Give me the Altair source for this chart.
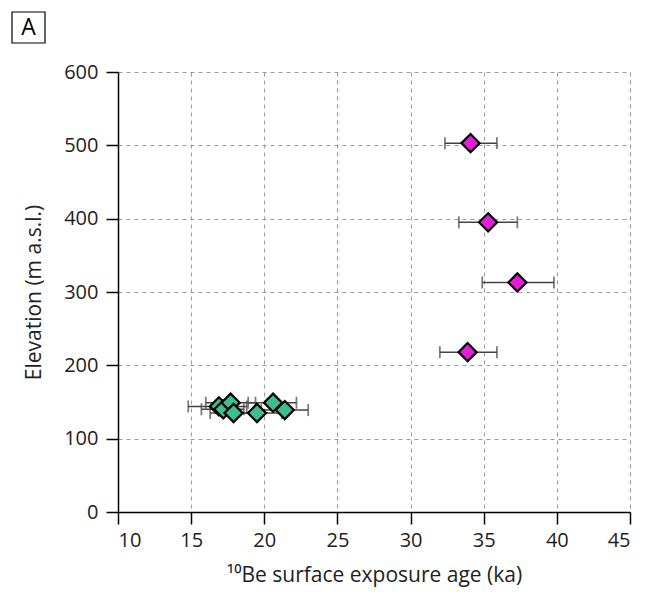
import altair as alt
import pandas as pd

# Pink group (higher elevations)
pink_age = [34.1, 35.3, 37.3, 33.9]
pink_lo = [32.35, 33.3, 34.9, 32.0]
pink_hi = [35.9, 37.3, 39.8, 35.9]
pink_elev = [503, 395, 313, 218]

# Green group (low elevations)
green_age = [16.9, 17.2, 17.7, 17.9, 19.5, 20.6, 21.4]
green_lo = [14.8, 15.7, 16.0, 16.3, 17.8, 18.9, 19.8]
green_hi = [18.8, 18.6, 19.4, 19.6, 21.2, 22.2, 23.0]
green_elev = [144, 140, 149, 135, 135, 149, 139]

x_ticks = [10, 15, 20, 25, 30, 35, 40, 45]
y_ticks = [0, 100, 200, 300, 400, 500, 600]

df = pd.DataFrame({
    "age": pink_age + green_age,
    "lo": pink_lo + green_lo,
    "hi": pink_hi + green_hi,
    "elev": pink_elev + green_elev,
    "group": ["pink"] * len(pink_age) + ["green"] * len(green_age),
})

FONT = "Open Sans"

axis_common = dict(
    grid=True, gridDash=[4, 4], gridColor="#9a9a9a", gridWidth=1,
    domainColor="black", domainWidth=1.5,
    tickColor="black", tickWidth=1.5, tickSize=12,
    labelFont=FONT, labelFontSize=20, labelColor="#222222",
    titleFont=FONT, titleFontSize=21, titleFontWeight="normal", titleColor="#222222",
)

xaxis = alt.Axis(values=x_ticks, title="¹⁰Be surface exposure age (ka)",
                 titlePadding=14, labelPadding=6, **axis_common)
yaxis = alt.Axis(values=y_ticks, title="Elevation (m a.s.l.)",
                 titlePadding=19, labelPadding=8, **axis_common)

xscale = alt.Scale(domain=[10, 45], nice=False, zero=False)
yscale = alt.Scale(domain=[0, 600], nice=False)

base = alt.Chart(df)

err = base.mark_errorbar(ticks=alt.TickConfig(size=12, thickness=1.8, color="#444444"),
                         color="#444444", thickness=1.5).encode(
    x=alt.X("lo:Q", scale=xscale, axis=xaxis),
    x2="hi:Q",
    y=alt.Y("elev:Q", scale=yscale, axis=yaxis),
)

pts = base.mark_point(shape="diamond", filled=True, size=330, stroke="black",
                      strokeWidth=2.2, opacity=1).encode(
    x=alt.X("age:Q", scale=xscale, axis=xaxis),
    y=alt.Y("elev:Q", scale=yscale, axis=yaxis),
    fill=alt.Fill("group:N",
                  scale=alt.Scale(domain=["pink", "green"],
                                  range=["#E21FD6", "#3DBE8F"]),
                  legend=None),
)

label_df = pd.DataFrame({"t": ["A"]})
box = alt.Chart(label_df).mark_rect(fill="white", stroke="black", strokeWidth=1.2).encode(
    x=alt.value(-106), x2=alt.value(-73), y=alt.value(-60), y2=alt.value(-29)
)
txt = alt.Chart(label_df).mark_text(font=FONT, fontSize=23, color="black",
                                    align="center", baseline="middle").encode(
    x=alt.value(-89.5), y=alt.value(-44), text="t:N"
)

chart = alt.layer(err, pts, box, txt).properties(
    width=512, height=440,
    padding={"left": 3, "top": 3, "right": 10, "bottom": 2},
).configure_view(stroke=None)

chart.save("out.html", embed_options={"renderer": "svg", "actions": False})
